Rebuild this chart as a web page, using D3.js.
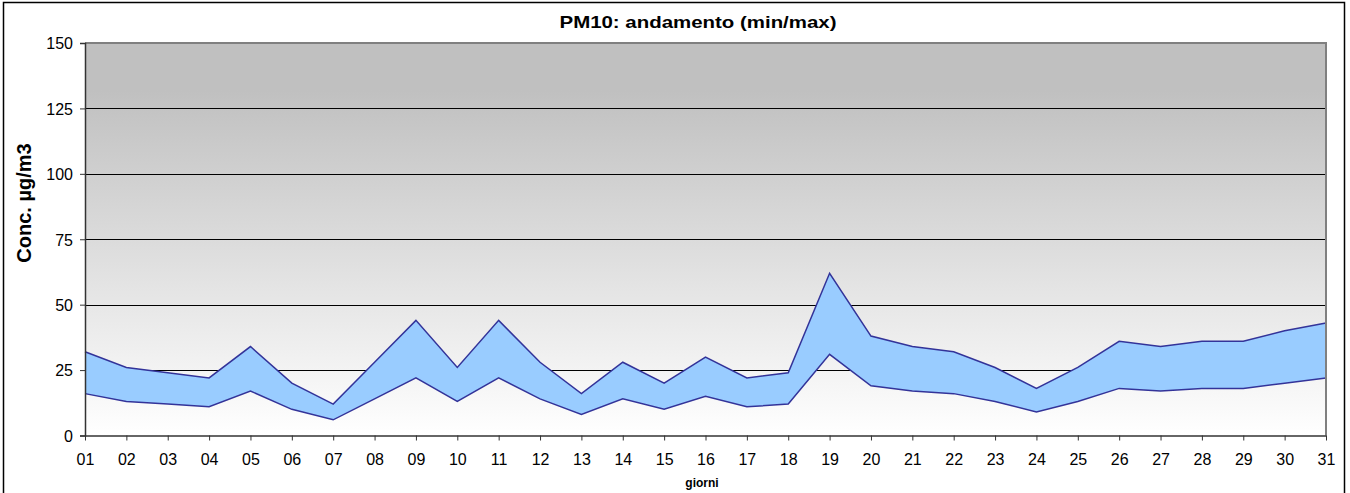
<!DOCTYPE html>
<html>
<head>
<meta charset="utf-8">
<script src="https://cdn.jsdelivr.net/npm/d3@7"></script>
<style>
  body { margin: 0; background: #fff; }
  text { font-family: Arial, "Liberation Sans", sans-serif; fill: #000; }
</style>
</head>
<body>
<svg id="chart" width="1350" height="493"></svg>
<script>
var days = ["01","02","03","04","05","06","07","08","09","10","11","12","13","14","15","16",
            "17","18","19","20","21","22","23","24","25","26","27","28","29","30","31"];
var maxVals = [32,26,24,22,34,20,12,28,44,26,44,28,16,28,20,30,22,24,62,38,34,32,26,18,26,36,34,36,36,40,43];
var minVals = [16,13,12,11,17,10,6,14,22,13,22,14,8,14,10,15,11,12,31,19,17,16,13,9,13,18,17,18,18,20,22];
var yTicks = [0,25,50,75,100,125,150];

var svg = d3.select("#chart");
// plot box (don't use "top": clashes with window.top)
var pLeft = 85, pRight = 1326, pTop = 43, pBottom = 435.5;

var x = d3.scalePoint().domain(days).range([pLeft, pRight]);
var y = d3.scaleLinear().domain([0, 150]).range([pBottom, pTop]);

var data = days.map(function(d, i) { return {day: d, lo: minVals[i], hi: maxVals[i]}; });

// outer frame
svg.append("rect")
    .attr("x", 3.5).attr("y", 2.5)
    .attr("width", 1341).attr("height", 500)
    .attr("fill", "none").attr("stroke", "#000").attr("stroke-width", 1.5);

// plot background gradient
var grad = svg.append("defs").append("linearGradient")
    .attr("id", "bg").attr("x1", 0).attr("y1", 0).attr("x2", 0).attr("y2", 1);
grad.append("stop").attr("offset", "0%").attr("stop-color", "#c0c0c0");
grad.append("stop").attr("offset", "12%").attr("stop-color", "#c0c0c0");
grad.append("stop").attr("offset", "100%").attr("stop-color", "#ffffff");

svg.append("rect")
    .attr("x", pLeft).attr("y", pTop)
    .attr("width", pRight - pLeft).attr("height", pBottom - pTop)
    .attr("fill", "url(#bg)");

// gridlines
svg.append("g").selectAll("line")
    .data(yTicks.filter(function(t) { return t > 0 && t < 150; }))
    .enter().append("line")
    .attr("x1", pLeft).attr("x2", pRight)
    .attr("y1", function(d) { return Math.round(y(d)) + 0.5; })
    .attr("y2", function(d) { return Math.round(y(d)) + 0.5; })
    .attr("stroke", "#000").attr("stroke-width", 1);

// min/max band
var area = d3.area()
    .x(function(d) { return x(d.day); })
    .y0(function(d) { return y(d.lo); })
    .y1(function(d) { return y(d.hi); });

svg.append("path").datum(data)
    .attr("d", area)
    .attr("fill", "#99ccff");

var lineHi = d3.line().x(function(d) { return x(d.day); }).y(function(d) { return y(d.hi); });
var lineLo = d3.line().x(function(d) { return x(d.day); }).y(function(d) { return y(d.lo); });

svg.append("path").datum(data).attr("d", lineHi)
    .attr("fill", "none").attr("stroke", "#333399").attr("stroke-width", 1.5);
svg.append("path").datum(data).attr("d", lineLo)
    .attr("fill", "none").attr("stroke", "#333399").attr("stroke-width", 1.5);

// plot border (top / right grey)
svg.append("path")
    .attr("d", "M" + pLeft + "," + pTop + "H" + pRight + "V" + pBottom)
    .attr("fill", "none").attr("stroke", "#808080").attr("stroke-width", 2);

// axes
var yAxis = d3.axisLeft(y).tickValues(yTicks).tickSize(5).tickPadding(7);
var gy = svg.append("g").attr("transform", "translate(" + pLeft + ",0)").call(yAxis);
gy.select(".domain").attr("stroke", "#333").attr("stroke-width", 1.5);
gy.selectAll(".tick line").attr("stroke", "#333");
gy.selectAll("text").style("font-size", "16px").attr("fill", "#000").attr("dy", "0.36em");

var xAxis = d3.axisBottom(x).tickSize(5).tickPadding(13).tickSizeOuter(0);
var gx = svg.append("g").attr("transform", "translate(0," + pBottom + ")").call(xAxis);
gx.select(".domain").attr("stroke", "#333").attr("stroke-width", 1.5);
gx.selectAll(".tick line").attr("stroke", "#333");
gx.selectAll("text").style("font-size", "16px").attr("fill", "#000");

// title and axis labels
svg.append("text")
    .attr("x", 698).attr("y", 28)
    .attr("text-anchor", "middle")
    .attr("textLength", 277).attr("lengthAdjust", "spacingAndGlyphs")
    .style("font-size", "17px").style("font-weight", "bold")
    .text("PM10: andamento (min/max)");

svg.append("text")
    .attr("transform", "translate(31,203) rotate(-90)")
    .attr("text-anchor", "middle")
    .style("font-size", "20px").style("font-weight", "bold")
    .text("Conc. µg/m3");

svg.append("text")
    .attr("x", 702).attr("y", 487)
    .attr("text-anchor", "middle")
    .style("font-size", "12px").style("font-weight", "bold")
    .text("giorni");
</script>
</body>
</html>
